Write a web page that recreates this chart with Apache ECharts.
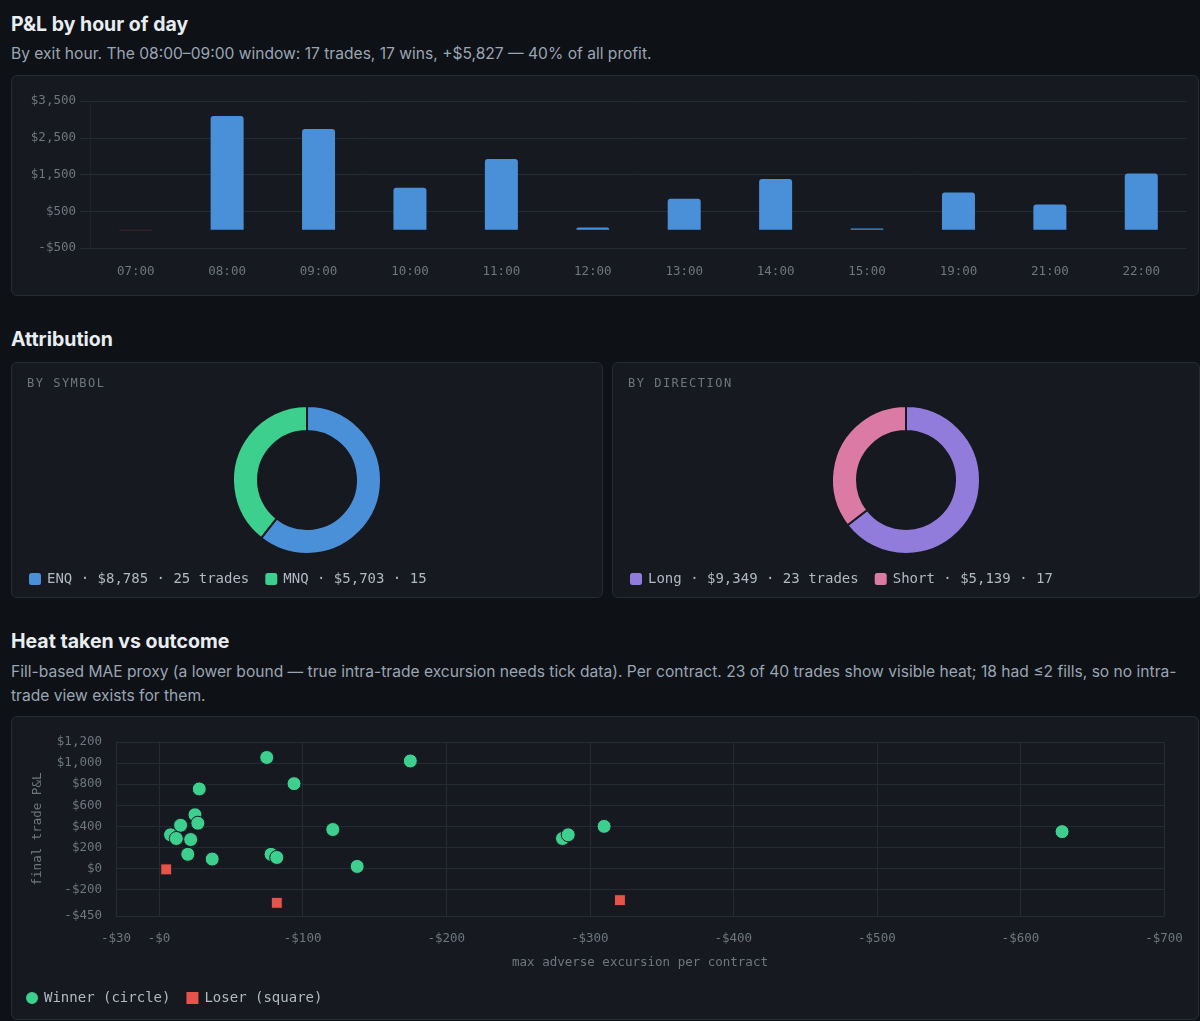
<!DOCTYPE html>
<html>
<head>
<meta charset="utf-8">
<script src="https://cdn.jsdelivr.net/npm/echarts@6/dist/echarts.min.js"></script>
<style>
	body{margin:0;background:#0e1115;font-family:Inter,"Noto Sans",sans-serif;width:1200px;height:1021px;overflow:hidden;position:relative;}
	.h{position:absolute;left:11px;color:#e8edf2;font-weight:700;font-size:19.5px;line-height:24px;margin:0;}
	.sub{position:absolute;left:11px;color:#9aa5b3;font-size:15.6px;line-height:24px;white-space:nowrap;}
	.panel{position:absolute;background:#161a20;border:1px solid #262c34;border-radius:6px;box-sizing:border-box;}
	.chart{position:absolute;left:0;top:0;width:100%;height:100%;}
	.cap{position:absolute;left:15px;top:13px;font-family:"DejaVu Sans Mono",monospace;font-size:12px;letter-spacing:1.5px;color:#6e7681;}
</style>
</head>
<body>
<div class="h" style="top:12px">P&amp;L by hour of day</div>
<div class="sub" style="top:42px">By exit hour. The 08:00–09:00 window: 17 trades, 17 wins, +$5,827 — 40% of all profit.</div>
<div class="panel" style="left:11px;top:75px;width:1188px;height:221px"><div class="chart" id="barChart"></div></div>

<div class="h" style="top:327px">Attribution</div>
<div class="panel" style="left:11px;top:362px;width:592px;height:236px">
	<div class="chart" id="symChart"></div><div class="cap">BY SYMBOL</div>
</div>
<div class="panel" style="left:612px;top:362px;width:588px;height:236px">
	<div class="chart" id="dirChart"></div><div class="cap">BY DIRECTION</div>
</div>

<div class="h" style="top:629px">Heat taken vs outcome</div>
<div class="sub" style="top:660px">Fill-based MAE proxy (a lower bound — true intra-trade excursion needs tick data). Per contract. 23 of 40 trades show visible heat; 18 had ≤2 fills, so no intra-<br>trade view exists for them.</div>
<div class="panel" style="left:11px;top:716px;width:1188px;height:304px"><div class="chart" id="heatChart"></div></div>

<script type="text/javascript">
	// P&L by exit hour
	var hours = ['07:00','08:00','09:00','10:00','11:00','12:00','13:00','14:00','15:00','19:00','21:00','22:00'];
	var hourPnl = [-25, 3090, 2737, 1138, 1925, 60, 843, 1380, 30, 1012, 682, 1530];

	// attribution
	var symbols = ['ENQ', 'MNQ'];
	var symbolPnl = [8785, 5703];
	var symbolTrades = [25, 15];
	var directions = ['Long', 'Short'];
	var directionPnl = [9349, 5139];
	var directionTrades = [23, 17];

	// heat vs outcome: [mae per contract, final pnl]
	var winners = [
		[75, 1053], [175, 1020], [28, 755], [94, 805], [25, 510], [27, 430], [15, 410],
		[8, 320], [12, 285], [22, 275], [20, 135], [37, 90], [78, 135], [82, 105],
		[121, 370], [138, 20], [281, 285], [285, 320], [310, 400], [629, 350]
	];
	var losers = [[5, -8], [82, -325], [321, -300]];
	var pnlTicks = [-450, -200, 0, 200, 400, 600, 800, 1000, 1200];

	var mono = '"DejaVu Sans Mono", monospace';
	var gridCol = '#252b33';
	var axisText = '#6e7681';
	var panelBg = '#161a20';

	function money(v){
		var s = '$' + Math.abs(v).toLocaleString('en-US');
		return v < 0 ? '-' + s : s;
	}

	var barChart = echarts.init(document.getElementById('barChart'));
	barChart.setOption({
		animation:false,
		grid:{left:78, right:11, top:25, bottom:47},
		xAxis:{
			type:'category', data:hours,
			axisLine:{show:false}, axisTick:{show:false},
			axisLabel:{color:axisText, fontFamily:mono, fontSize:12.5, margin:17}
		},
		yAxis:{
			type:'value', min:-500, max:3500, interval:1000,
			axisLine:{show:true, lineStyle:{color:'#1f242b'}},
			axisTick:{show:true, length:10, lineStyle:{color:gridCol}},
			splitLine:{lineStyle:{color:gridCol}},
			axisLabel:{color:axisText, fontFamily:mono, fontSize:12.5, margin:14, formatter:money}
		},
		series:[{
			type:'bar', barWidth:33,
			data:hourPnl.map(function(v){
				return {value:v, itemStyle:{color: v < 0 ? '#4b2a31' : '#4a90d9', borderRadius: v < 0 ? [0,0,2,2] : [3,3,0,0]}};
			})
		}]
	});

	function donut(id, names, pnl, trades, colors){
		var c = echarts.init(document.getElementById(id));
		c.setOption({
			animation:false,
			color:colors,
			legend:{
				left:10, top:203, itemWidth:14, itemHeight:14, itemGap:14,
				icon:'roundRect',
				textStyle:{color:'#b0b9c3', fontFamily:mono, fontSize:14},
				formatter:function(name){
					var i = names.indexOf(name);
					return name + ' · ' + money(pnl[i]) + ' · ' + trades[i] + (i === 0 ? ' trades' : '');
				}
			},
			series:[{
				type:'pie', radius:[49, 74], center:['50%', 117],
				startAngle:90, clockwise:true,
				label:{show:false}, labelLine:{show:false},
				itemStyle:{borderColor:panelBg, borderWidth:2},
				emphasis:{disabled:true},
				data:names.map(function(n, i){ return {name:n, value:pnl[i]}; })
			}]
		});
	}
	donut('symChart', symbols, symbolPnl, symbolTrades, ['#4a90d9', '#3dcf8e']);
	donut('dirChart', directions, directionPnl, directionTrades, ['#927cdb', '#db7aa5']);

	var heatChart = echarts.init(document.getElementById('heatChart'));
	heatChart.setOption({
		animation:false,
		grid:{left:104, right:34, top:25, bottom:103},
		legend:{
			left:7, top:268, itemWidth:14, itemHeight:14, itemGap:14,
			textStyle:{color:'#b0b9c3', fontFamily:mono, fontSize:14},
			data:[{name:'Winner (circle)', icon:'circle'}, {name:'Loser (square)', icon:'rect'}]
		},
		xAxis:{
			type:'value', min:-30, max:700,
			name:'max adverse excursion per contract', nameLocation:'middle', nameGap:40,
			nameTextStyle:{color:axisText, fontFamily:mono, fontSize:12.5},
			axisLine:{lineStyle:{color:gridCol}},
			axisTick:{show:true, length:10, lineStyle:{color:gridCol}},
			splitLine:{show:true, lineStyle:{color:gridCol}},
			axisLabel:{color:axisText, fontFamily:mono, fontSize:12.5, margin:16,
				formatter:function(v){ return '-$' + Math.abs(v); }}
		},
		yAxis:{
			type:'value', min:-450, max:1200,
			name:'final trade P&L', nameLocation:'middle', nameGap:72, nameRotate:90,
			nameTextStyle:{color:axisText, fontFamily:mono, fontSize:12.5},
			axisLine:{show:true, lineStyle:{color:gridCol}},
			axisTick:{show:true, length:10, customValues:pnlTicks, lineStyle:{color:gridCol}},
			splitLine:{lineStyle:{color:gridCol}},
			axisLabel:{color:axisText, fontFamily:mono, fontSize:12.5, margin:14, customValues:pnlTicks, formatter:money}
		},
		series:[
			{name:'Winner (circle)', type:'scatter', symbol:'circle', symbolSize:14,
				itemStyle:{color:'#3dcf8e', opacity:1, borderColor:panelBg, borderWidth:1}, data:winners},
			{name:'Loser (square)', type:'scatter', symbol:'rect', symbolSize:11,
				itemStyle:{color:'#e5534b', opacity:1, borderColor:panelBg, borderWidth:1}, data:losers}
		]
	});
</script>
</body>
</html>
